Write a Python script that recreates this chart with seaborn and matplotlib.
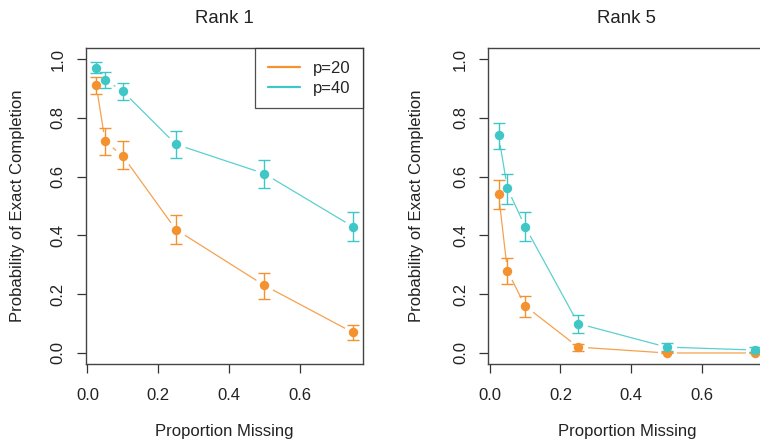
import numpy as np
import pandas as pd
import matplotlib
matplotlib.use("Agg")
import matplotlib.pyplot as plt
from matplotlib.lines import Line2D
import seaborn as sns

# ---- data ----
prop_missing = [0.025, 0.05, 0.1, 0.25, 0.5, 0.75]
series_labels = ["p=20", "p=40"]
panel_titles = ["Rank 1", "Rank 5"]

rank1_p20_mean = [0.91, 0.72, 0.67, 0.42, 0.23, 0.07]
rank1_p20_lo = [0.88, 0.675, 0.625, 0.37, 0.185, 0.045]
rank1_p20_hi = [0.94, 0.765, 0.72, 0.468, 0.273, 0.095]

rank1_p40_mean = [0.97, 0.93, 0.89, 0.71, 0.61, 0.43]
rank1_p40_lo = [0.952, 0.903, 0.86, 0.664, 0.56, 0.382]
rank1_p40_hi = [0.989, 0.955, 0.92, 0.756, 0.658, 0.48]

rank5_p20_mean = [0.54, 0.28, 0.16, 0.02, 0.0, 0.0]
rank5_p20_lo = [0.49, 0.235, 0.122, 0.008, 0.0, 0.0]
rank5_p20_hi = [0.59, 0.324, 0.195, 0.031, 0.003, 0.002]

rank5_p40_mean = [0.74, 0.56, 0.43, 0.10, 0.02, 0.01]
rank5_p40_lo = [0.695, 0.508, 0.381, 0.068, 0.006, 0.002]
rank5_p40_hi = [0.782, 0.61, 0.478, 0.128, 0.033, 0.019]

x_ticks = [0.0, 0.2, 0.4, 0.6]
y_ticks = [0.0, 0.2, 0.4, 0.6, 0.8, 1.0]
x_label = "Proportion Missing"
y_label = "Probability of Exact Completion"

colors = {"p=20": "#F3922F", "p=40": "#3FC7C8"}

sns.set_theme(style="ticks")
plt.rcParams["font.family"] = ["Liberation Sans", "DejaVu Sans"]

panels = [
    {"p=20": (rank1_p20_mean, rank1_p20_lo, rank1_p20_hi),
     "p=40": (rank1_p40_mean, rank1_p40_lo, rank1_p40_hi)},
    {"p=20": (rank5_p20_mean, rank5_p20_lo, rank5_p20_hi),
     "p=40": (rank5_p40_mean, rank5_p40_lo, rank5_p40_hi)},
]

W, H = 760, 443
fig = plt.figure(figsize=(W / 100, H / 100), dpi=100)
ax_rects = [
    [86 / W, 1 - 364 / H, 277 / W, 316 / H],
    [488.3 / W, 1 - 364 / H, 277 / W, 316 / H],
]

for i, (rect, pdata, title) in enumerate(zip(ax_rects, panels, panel_titles)):
    ax = fig.add_axes(rect)
    for lab in series_labels:
        mean, lo, hi = pdata[lab]
        df = pd.DataFrame({"x": prop_missing, "y": mean})
        sns.lineplot(data=df, x="x", y="y", ax=ax, color=colors[lab],
                     lw=0.9, alpha=0.85, zorder=2, legend=False)
    for lab in series_labels:
        mean, lo, hi = pdata[lab]
        df = pd.DataFrame({"x": prop_missing, "y": mean})
        sns.scatterplot(data=df, x="x", y="y", ax=ax, color="white",
                        s=190, linewidth=0, zorder=2.2, legend=False)
    for lab in series_labels:
        mean, lo, hi = pdata[lab]
        m = np.array(mean)
        yerr = np.vstack([m - np.array(lo), np.array(hi) - m])
        ax.errorbar(prop_missing, mean, yerr=yerr, fmt="none",
                    ecolor=colors[lab], elinewidth=1.0, capsize=4.3,
                    capthick=1.0, zorder=2.6)
        df = pd.DataFrame({"x": prop_missing, "y": mean})
        sns.scatterplot(data=df, x="x", y="y", ax=ax, color=colors[lab],
                        s=46, linewidth=0, zorder=3, legend=False)

    ax.set_xlim(0.025 - 0.029, 0.75 + 0.029)
    ax.set_ylim(-0.0375, 1.0375)
    ax.set_xticks(x_ticks)
    ax.set_xticklabels([f"{v:.1f}" for v in x_ticks])
    ax.set_yticks(y_ticks)
    ax.set_yticklabels([f"{v:.1f}" for v in y_ticks], rotation=90, va="center")
    ax.tick_params(axis="both", direction="out", length=6.5, width=0.9,
                   color="#333333", labelsize=12, labelcolor="#222222")
    ax.tick_params(axis="x", pad=11)
    ax.tick_params(axis="y", pad=8)
    for sp in ax.spines.values():
        sp.set_visible(True)
        sp.set_color("#444444")
        sp.set_linewidth(1.0)
    ax.set_xlabel(x_label, fontsize=12, color="#222222")
    ax.set_ylabel(y_label, fontsize=12, color="#222222", va="center")
    ax.xaxis.set_label_coords(0.5, -0.19)
    ax.yaxis.set_label_coords((17.5 - 86) / 277 if i == 0 else (417 - 488.3) / 277, 0.5)
    ax.set_title(title, fontsize=13.4, color="#222222", pad=18)

    if i == 0:
        handles = [Line2D([0], [0], color=colors[l], lw=1.6) for l in series_labels]
        leg = ax.legend(handles, series_labels, loc="upper right",
                        borderaxespad=0, frameon=True, fancybox=False,
                        fontsize=12, handlelength=1.9, handletextpad=0.8,
                        labelspacing=0.3, borderpad=0.75)
        leg.get_frame().set_edgecolor("#222222")
        leg.get_frame().set_linewidth(0.9)
        leg.set_zorder(5)

fig.savefig("out.png", dpi=100, facecolor="white")
